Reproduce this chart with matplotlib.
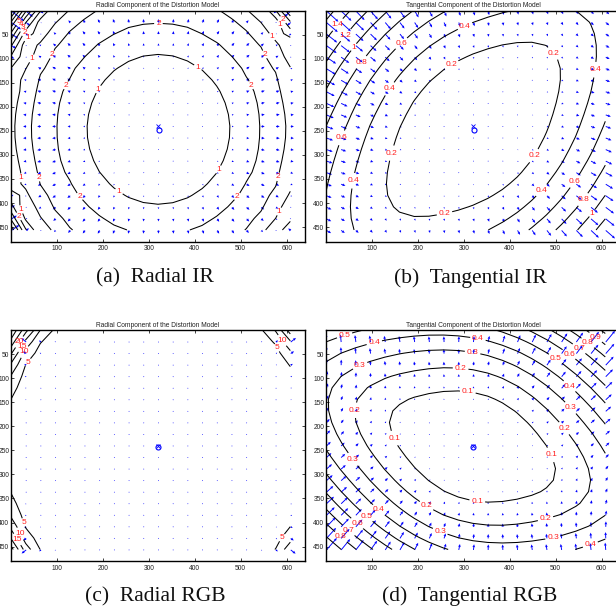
import numpy as np
import matplotlib
matplotlib.use("Agg")
import matplotlib.pyplot as plt

plt.rcParams['font.family'] = ['Liberation Sans', 'DejaVu Sans']

# ---------------- data ----------------
nx, ny = 640, 480            # image size (pixels)
grid_dx, grid_dy = 32, 24    # nx/20, ny/20 sampling grid
x_ticks = [100, 200, 300, 400, 500, 600]
y_ticks = [50, 100, 150, 200, 250, 300, 350, 400, 450]

title_radial = "Radial Component of the Distortion Model"
title_tangential = "Tangential Component of the Distortion Model"
captions = ["(a)  Radial IR", "(b)  Tangential IR", "(c)  Radial RGB", "(d)  Tangential RGB"]

# principal points (pixels)
cc_ir = [321.0, 247.0]
cc_rgb = [319.0, 242.0]

# radial profile: radius (px) -> signed displacement (px)
rad_ir_radius = [0, 80, 155, 224, 255, 283, 315, 332, 345, 358, 372, 388, 405]
rad_ir_disp = [0, 0.17, 1.0, 2.0, 2.25, 2.0, 1.0, 0.0, -1.0, -2.2, -4.0, -6.5, -9.5]
rad_ir_levels = [1, 2, 3, 4, 5, 6, 7, 8, 9]

rad_rgb_radius = [0, 100, 200, 260, 300, 322, 338, 352, 362, 371, 385, 400]
rad_rgb_disp = [0, 0.5, 1.3, 1.8, 2.5, 3.4, 5.0, 10.0, 15.0, 20.0, 27.0, 35.0]
rad_rgb_levels = [5, 10, 15, 20, 25, 30, 35, 40]

# tangential coefficients (p1, p2) and focal length (px)
tan_ir_p = [1.49e-3, 1.39e-3]
tan_ir_focal = 580.0
tan_ir_levels = [0.2, 0.4, 0.6, 0.8, 1.0, 1.2, 1.4, 1.6]

tan_rgb_p = [-1.357e-3, 0.491e-3]
tan_rgb_focal = 525.0
tan_rgb_levels = [0.1, 0.2, 0.3, 0.4, 0.5, 0.6, 0.7, 0.8, 0.9, 1.0, 1.1]

# ---------------- model helpers ----------------
mx, my = np.meshgrid(np.arange(0, nx, grid_dx), np.arange(0, ny, grid_dy))


def radial_field(cc, radius, disp):
    t = np.asarray(radius, float) / 400.0
    powers = [3, 5, 7, 9, 11, 13]
    A = np.stack([t ** k for k in powers], axis=1)
    coef, *_ = np.linalg.lstsq(A, np.asarray(disp, float), rcond=None)
    vx, vy = mx - cc[0], my - cc[1]
    r = np.hypot(vx, vy)
    tr = r / 400.0
    d = sum(c * tr ** k for c, k in zip(coef, powers))
    rs = np.where(r == 0, 1, r)
    return vx / rs * d, vy / rs * d


def tangential_field(cc, p, f):
    x = (mx - cc[0]) / f
    y = (my - cc[1]) / f
    r2 = x ** 2 + y ** 2
    p1, p2 = p
    dx = 2 * p1 * x * y + p2 * (r2 + 2 * x ** 2)
    dy = p1 * (r2 + 2 * y ** 2) + 2 * p2 * x * y
    return f * dx, f * dy


def label_positions(ax, cs, spacing=115.0):
    pos = []
    for segs in cs.allsegs:
        for seg in segs:
            if len(seg) < 2:
                continue
            d = ax.transData.transform(seg)
            steps = np.hypot(*np.diff(d, axis=0).T)
            cum = np.concatenate([[0.0], np.cumsum(steps)])
            L = cum[-1]
            if L < 22:
                continue
            n = max(1, int(round(L / spacing)))
            for s in (np.arange(n) + 0.5) * L / n:
                i = int(np.clip(np.searchsorted(cum, s), 1, len(seg) - 1))
                w = (s - cum[i - 1]) / max(steps[i - 1], 1e-9)
                p = seg[i - 1] + w * (seg[i] - seg[i - 1])
                pos.append((p[0], p[1]))
    return pos


W, H = 616, 613
fig = plt.figure(figsize=(W / 100, H / 100), dpi=100)


def make_axes(left, top, w=294, h=231):
    return fig.add_axes([left / W, 1 - (top + h) / H, w / W, h / H])


panels = [
    (make_axes(11, 10.5), 'rad', cc_ir, (rad_ir_radius, rad_ir_disp), rad_ir_levels, title_radial),
    (make_axes(326, 10.5), 'tan', cc_ir, (tan_ir_p, tan_ir_focal), tan_ir_levels, title_tangential),
    (make_axes(11, 330), 'rad', cc_rgb, (rad_rgb_radius, rad_rgb_disp), rad_rgb_levels, title_radial),
    (make_axes(326, 330), 'tan', cc_rgb, (tan_rgb_p, tan_rgb_focal), tan_rgb_levels, title_tangential),
]

# MATLAB-style quiver autoscale (vector inputs: 20 effective points per side)
n_eff = np.sqrt(mx.size)
delx = (mx.max() - mx.min()) / n_eff
dely = (my.max() - my.min()) / n_eff
del_len = np.sqrt(delx ** 2 + dely ** 2)

for ax, kind, cc, params, levels, title in panels:
    ax.set_xlim(0, nx)
    ax.set_ylim(ny, 0)
    if kind == 'rad':
        U, V = radial_field(cc, *params)
    else:
        U, V = tangential_field(cc, *params)
    mag = np.hypot(U, V)
    sc = 0.9 * del_len / mag.max()
    ax.quiver(mx + 1, my + 1, U * sc, V * sc, angles='xy', scale_units='xy', scale=1,
              color='#0000ff', width=0.0032, headwidth=3.0, headlength=3.2,
              headaxislength=2.8, minlength=1.0, pivot='tail', zorder=2)
    ax.plot(cc[0] + 1, cc[1] + 1, 'o', mfc='none', mec='#0000ff', ms=3.6, mew=0.8, zorder=3)
    ax.plot(nx / 2, ny / 2, 'x', color='#0000ff', ms=2.5, mew=0.6, zorder=3)
    cs = ax.contour(mx, my, mag, levels=levels, colors='k', linewidths=0.75, zorder=4)
    pos = label_positions(ax, cs)
    if pos:
        labels = ax.clabel(cs, manual=pos, inline=True, inline_spacing=2, fontsize=6,
                           colors='#ff2020', fmt='%g')
        for t in labels:
            t.set_rotation(0)
    ax.set_xticks(x_ticks)
    ax.set_yticks(y_ticks)
    ax.tick_params(direction='in', length=2.2, width=0.6, labelsize=4.8,
                   top=True, right=True, pad=1.2, colors='#222222')
    ax.tick_params(axis='x', pad=2.6)
    for sp in ax.spines.values():
        sp.set_linewidth(1.0)
    ax.set_title(title, fontsize=4.8, pad=2.5, color='#222222')

cap_pos = [(155, 282.5), (470, 282.5), (155, 601.5), (470, 601.5)]
for (cx, cy), txt in zip(cap_pos, captions):
    fig.text(cx / W, 1 - cy / H, txt, ha='center', va='baseline', fontsize=15.5,
             family=['Liberation Serif', 'DejaVu Serif'], color='#111111')

fig.savefig("out.png", dpi=100)
